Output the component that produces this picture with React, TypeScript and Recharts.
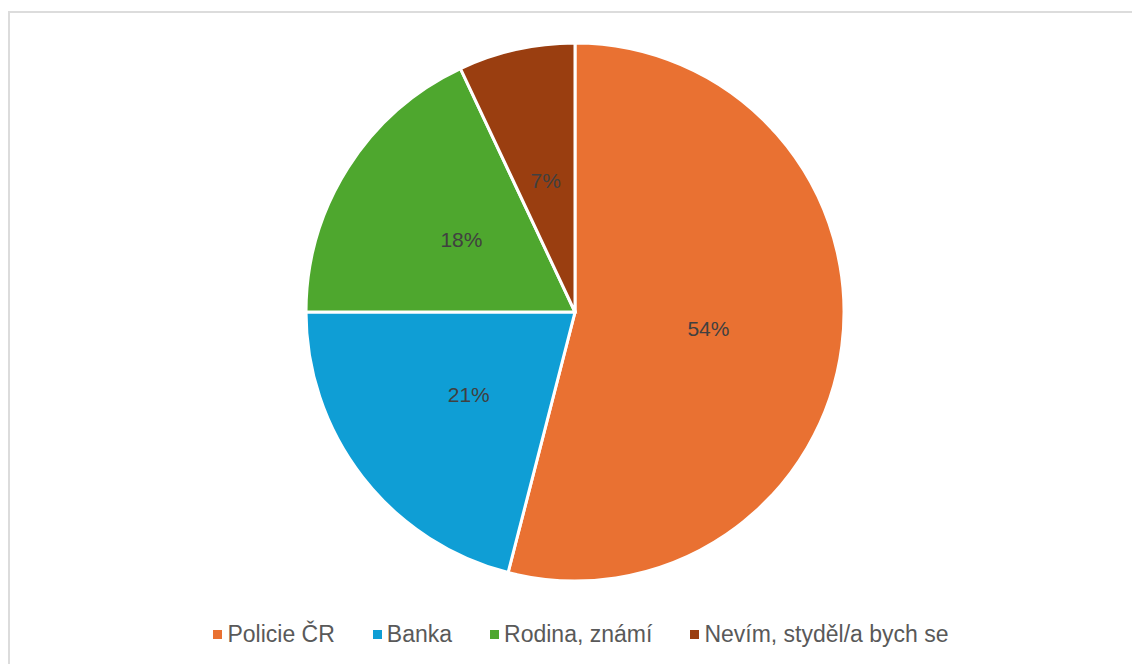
import { PieChart, Pie, Cell, Legend } from 'recharts';

const categories = ['Policie ČR', 'Banka', 'Rodina, známí', 'Nevím, styděl/a bych se'];
const shares = [54, 21, 18, 7];

const COLORS = ['#E97132', '#0F9ED5', '#4EA72E', '#9A3E10'];

const data = categories.map((name, i) => ({ name, value: shares[i] }));

const RAD = Math.PI / 180;

const renderLabel = (props: any) => {
  const { cx, cy, midAngle, outerRadius, value } = props;
  const r = outerRadius * 0.5;
  const x = cx + r * Math.cos(-midAngle * RAD);
  const y = cy + r * Math.sin(-midAngle * RAD);
  return (
    <text
      x={x}
      y={y}
      fill="#404040"
      fontSize={21}
      fontFamily="'Liberation Sans', Arial, sans-serif"
      textAnchor="middle"
      dominantBaseline="central"
    >
      {`${value}%`}
    </text>
  );
};

const renderLegend = () => (
  <div
    style={{
      display: 'flex',
      justifyContent: 'center',
      alignItems: 'center',
      gap: 38,
      fontFamily: "'Liberation Sans', Arial, sans-serif",
      fontSize: 23,
      color: '#595959',
      lineHeight: '26px',
    }}
  >
    {data.map((d, i) => (
      <div key={d.name} style={{ display: 'flex', alignItems: 'center', gap: 5 }}>
        <div style={{ width: 9, height: 9, background: COLORS[i] }} />
        <span>{d.name}</span>
      </div>
    ))}
  </div>
);

export default function App() {
  return (
    <div
      style={{
        position: 'fixed',
        left: 8,
        top: 11,
        width: 1140,
        height: 680,
        boxSizing: 'border-box',
        borderTop: '2px solid #dcdcdc',
        borderLeft: '2px solid #dcdcdc',
        background: '#fff',
      }}
    >
      <PieChart width={1122} height={651} margin={{ top: 0, right: 0, bottom: 0, left: 0 }}>
        <Pie
          data={data}
          dataKey="value"
          nameKey="name"
          cx={565}
          cy={299}
          outerRadius={269}
          startAngle={90}
          endAngle={-270}
          stroke="#ffffff"
          strokeWidth={3}
          label={renderLabel}
          labelLine={false}
          isAnimationActive={false}
        >
          {data.map((entry, index) => (
            <Cell key={`cell-${index}`} fill={COLORS[index % COLORS.length]} />
          ))}
        </Pie>
        <Legend
          content={renderLegend}
          wrapperStyle={{ top: 608, left: 0, width: 1122, paddingLeft: 20, boxSizing: 'border-box' }}
        />
      </PieChart>
    </div>
  );
}
